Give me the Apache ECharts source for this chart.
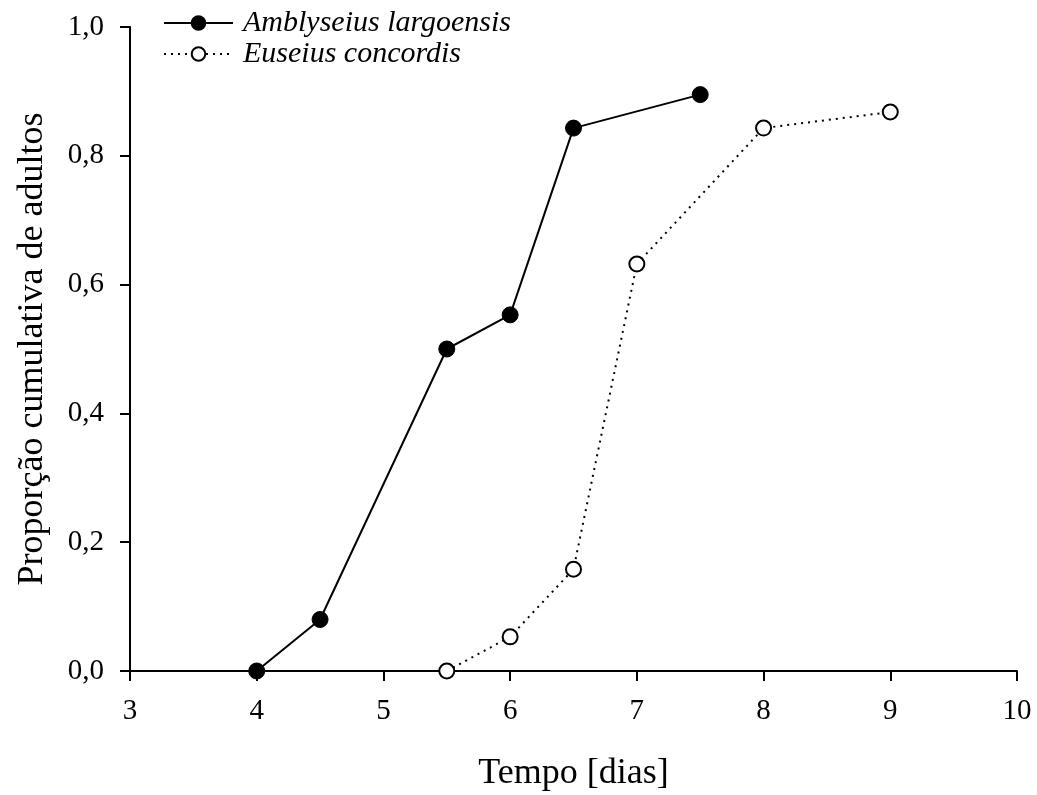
<!DOCTYPE html>
<html><head><meta charset="utf-8">
<script src="https://cdn.jsdelivr.net/npm/echarts@6/dist/echarts.min.js"></script>
<style>html,body{margin:0;padding:0;background:#fff}#c{width:1037px;height:795px}</style>
</head><body><div id="c"></div>
<script>
const seriesNames = ['Amblyseius largoensis', 'Euseius concordis'];
const amblyX = [4, 4.5, 5.5, 6, 6.5, 7.5];
const amblyY = [0.0, 0.08, 0.50, 0.553, 0.843, 0.895];
const euseiusX = [5.5, 6, 6.5, 7, 8, 9];
const euseiusY = [0.0, 0.053, 0.158, 0.632, 0.843, 0.868];
const xTitle = 'Tempo [dias]';
const yTitle = 'Proporção cumulativa de adultos';

const font = 'Liberation Serif';
const chart = echarts.init(document.getElementById('c'));
chart.setOption({
  animation: false,
  backgroundColor: '#fff',
  grid: { left: 130, right: 20, top: 27, bottom: 124, containLabel: false, outerBoundsMode: 'none' },
  legend: {
    orient: 'vertical', left: 158, top: 3, itemWidth: 69, itemHeight: 17, itemGap: 1,
    textStyle: { fontFamily: font, fontSize: 30, fontStyle: 'italic', color: '#000', padding: [0, 0, 0, 5] },
    data: seriesNames
  },
  xAxis: {
    type: 'value', min: 3, max: 10, interval: 1,
    name: xTitle, nameLocation: 'middle', nameGap: 85,
    nameTextStyle: { fontFamily: font, fontSize: 36, color: '#000' },
    axisLine: { onZero: false, lineStyle: { color: '#000', width: 2 } },
    axisTick: { length: 10, lineStyle: { color: '#000', width: 2 } },
    axisLabel: { fontFamily: font, fontSize: 29, color: '#000', margin: 26 },
    splitLine: { show: false }
  },
  yAxis: {
    type: 'value', min: 0, max: 1, interval: 0.2,
    name: yTitle, nameLocation: 'middle', nameGap: 79,
    nameTextStyle: { fontFamily: font, fontSize: 36, color: '#000' },
    axisLine: { show: true, lineStyle: { color: '#000', width: 2 } },
    axisTick: { show: true, length: 10, lineStyle: { color: '#000', width: 2 } },
    axisLabel: { fontFamily: font, fontSize: 29, color: '#000', margin: 26,
      formatter: v => v.toFixed(1).replace('.', ',') },
    splitLine: { show: false }
  },
  series: [
    {
      name: seriesNames[0], type: 'line', data: amblyX.map((x, i) => [x, amblyY[i]]),
      symbol: 'circle', symbolSize: 16,
      lineStyle: { color: '#000', width: 2, type: 'solid' },
      itemStyle: { color: '#000', borderColor: '#000', borderWidth: 1 }
    },
    {
      name: seriesNames[1], type: 'line', data: euseiusX.map((x, i) => [x, euseiusY[i]]),
      symbol: 'circle', symbolSize: 15,
      lineStyle: { color: '#000', width: 2, type: [2, 5] },
      itemStyle: { color: '#fff', borderColor: '#000', borderWidth: 2 }
    }
  ]
});
</script></body></html>
